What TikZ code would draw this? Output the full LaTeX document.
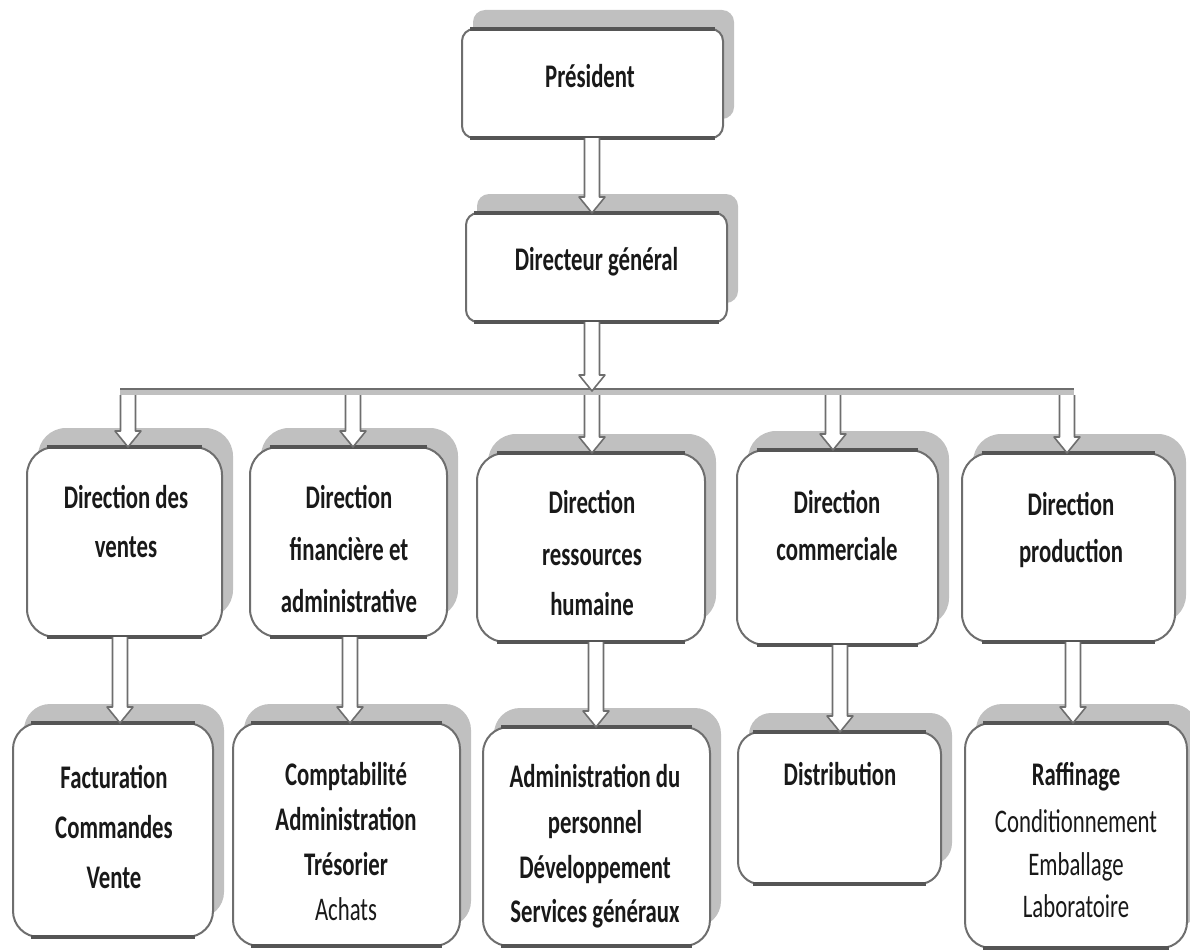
\documentclass[tikz,border=0pt]{standalone}
\usepackage{fontspec}
\setmainfont{Carlito}[FakeStretch=0.69]
\usetikzlibrary{calc,fit}
\definecolor{shadowc}{RGB}{192,192,192}
\definecolor{boxc}{RGB}{110,110,110}
\definecolor{edgec}{RGB}{85,85,85}
\definecolor{txtc}{RGB}{25,25,25}
\newcommand\orgnode[6]{%
  \fill[shade, rounded corners=#6pt] (#2+11,#3-19) rectangle (#4+11,#5-19);
  \node[orgbox, rounded corners=#6pt, fit={(#2,#3) (#4,#5)}] (#1) {};
  \draw[edgec, line width=3.6pt] (#2+#6*0.7,#3) -- (#4-#6*0.7,#3);
  \draw[edgec, line width=3.6pt] (#2+#6*0.7,#5) -- (#4-#6*0.7,#5);}
\begin{document}
\begin{tikzpicture}[x=1pt,y=-1pt,
  orgbox/.style={draw=boxc, line width=2pt, fill=white, inner sep=0pt, outer sep=0pt},
  shade/.style={fill=shadowc},
  txt/.style={text=txtc, font=\fontsize{33}{40}\selectfont, inner sep=0pt, anchor=base},
  btxt/.style={txt, font=\fontsize{33}{40}\selectfont\bfseries},
  hollowarrow/.style={fill=white, draw=boxc, line width=1.6pt, line join=round,
    to path={let \p1=(\tikztostart), \p2=(\tikztotarget) in
      (\x1-7.5pt,\y1) -- (\x1-7.5pt,\y2+16pt) -- (\x1-13pt,\y2+16pt) -- (\x1,\y2)
      -- (\x1+13pt,\y2+16pt) -- (\x1+7.5pt,\y2+16pt) -- (\x1+7.5pt,\y1)}},
]
\useasboundingbox (0,0) rectangle (1190,950);
% level 1
\orgnode{P}{462}{29}{723}{138}{12}
\orgnode{DG}{466}{213}{727}{322}{12}
% level 2
\orgnode{L21}{27}{447}{222}{637}{28}
\orgnode{L22}{250}{447}{447}{637}{28}
\orgnode{L23}{477}{453}{705}{642}{28}
\orgnode{L24}{737}{450}{938}{645}{28}
\orgnode{L25}{962}{453}{1175}{642}{28}
% level 3
\orgnode{L31}{13}{723}{213}{937}{26}
\orgnode{L32}{233}{723}{460}{946}{26}
\orgnode{L33}{483}{727}{710}{946}{26}
\orgnode{L34}{738}{732}{941}{884}{22}
\orgnode{L35}{965}{723}{1187}{948}{26}
% bar
\coordinate (barL) at (120,392);
\coordinate (barR) at (1074,392);
\coordinate (barM) at (592,391);
\fill[shadowc] ($(barL)+(0,-3)$) rectangle ($(barR)+(0,3)$);
\draw[boxc, line width=2pt] ($(barL)+(0,-3)$) -- ($(barR)+(0,-3)$);
% arrows
\draw[hollowarrow] ($(P.south)+(-0.5,0)$) to (DG.north);
\draw[hollowarrow] ($(DG.south)+(-4.5,0)$) to (barM);
\draw[hollowarrow] ($(barL -| L21.north)+(3.5,3)$) to (L21.north);
\draw[hollowarrow] ($(barL -| L22.north)+(4.5,3)$) to (L22.north);
\draw[hollowarrow] ($(barL -| L23.north)+(1,3)$) to (L23.north);
\draw[hollowarrow] ($(barL -| L24.north)+(-4.5,3)$) to (L24.north);
\draw[hollowarrow] ($(barL -| L25.north)+(-1.5,3)$) to (L25.north);
\draw[hollowarrow] ($(L21.south)+(-4.5,0)$) to (L31.north);
\draw[hollowarrow] ($(L22.south)+(1.5,0)$) to (L32.north);
\draw[hollowarrow] ($(L23.south)+(5,0)$) to (L33.north);
\draw[hollowarrow] ($(L24.south)+(2.5,0)$) to (L34.north);
\draw[hollowarrow] ($(L25.south)+(4.5,0)$) to (L35.north);
% texts
\node[btxt] (tP) at (590,87) {Président};
\node[btxt] (tDG) at (596.5,270) {Directeur général};
\node[btxt] (t21a) at (126,508) {Direction des};
\node[btxt] (t21b) at (126,557) {ventes};
\node[btxt] (t22a) at (349,508) {Direction};
\node[btxt] (t22b) at (349,560) {financière et};
\node[btxt] (t22c) at (349,612) {administrative};
\node[btxt] (t23a) at (592,513) {Direction};
\node[btxt] (t23b) at (592,565) {ressources};
\node[btxt] (t23c) at (592,615) {humaine};
\node[btxt] (t24a) at (837,513) {Direction};
\node[btxt] (t24b) at (837,560) {commerciale};
\node[btxt] (t25a) at (1071,515) {Direction};
\node[btxt] (t25b) at (1071,562) {production};
\node[btxt] (t31a) at (114,788) {Facturation};
\node[btxt] (t31b) at (114,838) {Commandes};
\node[btxt] (t31c) at (114,888) {Vente};
\node[btxt] (t32a) at (346,785) {Comptabilité};
\node[btxt] (t32b) at (346,830) {Administration};
\node[btxt] (t32c) at (346,875) {Trésorier};
\node[txt] (t32d) at (346,920) {Achats};
\node[btxt] (t33a) at (595,787) {Administration du};
\node[btxt] (t33b) at (595,833) {personnel};
\node[btxt] (t33c) at (595,878) {Développement};
\node[btxt] (t33d) at (595,922) {Services généraux};
\node[btxt] (t34a) at (840,785) {Distribution};
\node[btxt] (t35a) at (1076,785) {Raffinage};
\node[txt] (t35b) at (1076,832) {Conditionnement};
\node[txt] (t35c) at (1076,875) {Emballage};
\node[txt] (t35d) at (1076,917) {Laboratoire};
\end{tikzpicture}
\end{document}
